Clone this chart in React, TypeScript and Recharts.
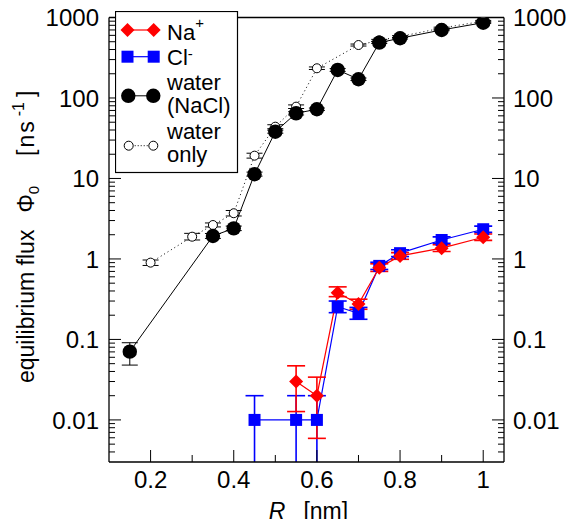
import React from "react";
import { ErrorBar, Line, LineChart, XAxis, YAxis } from "recharts";

const FONT = "'Liberation Sans', Arial, Helvetica, sans-serif";
const RED = "#ff0000";
const BLUE = "#0000ff";
const BLACK = "#000000";

const CHART_W = 558;
const CHART_H = 511;
const LEFT_W = 101;
const RIGHT_W = 62;
const BOTTOM_H = 57;
const TOP_M = 9.5;
const PLOT_X0 = LEFT_W;
const PLOT_X1 = CHART_W - RIGHT_W;
const PLOT_Y0 = TOP_M;
const PLOT_Y1 = CHART_H - BOTTOM_H;

// Na+ : pore radius R [nm], flux [ns^-1], lower / upper error bounds
const naR = [0.55, 0.6, 0.65, 0.7, 0.75, 0.8, 0.9, 1.0];
const naFlux = [0.03, 0.02, 0.38, 0.276, 0.78, 1.09, 1.36, 1.86];
const naLow = [0.0127, 0.0059, 0.34, 0.237, 0.7, 0.99, 1.24, 1.7];
const naHigh = [0.047, 0.034, 0.45, 0.316, 0.87, 1.2, 1.5, 2.04];

// Cl-
const clR = [0.45, 0.55, 0.6, 0.65, 0.7, 0.75, 0.8, 0.9, 1.0];
const clFlux = [0.01, 0.01, 0.01, 0.255, 0.211, 0.82, 1.18, 1.72, 2.34];
const clLow = [0.001, 0.001, 0.001, 0.215, 0.178, 0.74, 1.07, 1.57, 2.14];
const clHigh = [0.02, 0.02, 0.02, 0.3, 0.25, 0.91, 1.3, 1.88, 2.56];

// water (NaCl)
const waterR = [0.15, 0.35, 0.4, 0.45, 0.5, 0.55, 0.6, 0.65, 0.7, 0.75, 0.8, 0.9, 1.0];
const waterFlux = [0.0705, 1.93, 2.4, 11.3, 38.1, 64.5, 72.4, 223, 171, 487, 552, 700, 862];
const waterLow = [0.048, 1.8, 2.25, 10.7, 36.5, 61.5, 70, 214, 165, 475, 540, 685, 845];
const waterHigh = [0.091, 2.07, 2.56, 12, 39.8, 67.5, 75, 232, 177, 500, 565, 715, 880];

// water only
const pureR = [0.2, 0.3, 0.35, 0.4, 0.45, 0.5, 0.55, 0.6, 0.7, 0.75, 0.8, 0.9, 1.0];
const pureFlux = [0.9, 1.89, 2.64, 3.7, 19.2, 44, 78, 234, 455, 520, 580, 740, 900];
const pureLow = [0.83, 1.72, 2.5, 3.42, 17.9, 41.5, 74, 226, 442, 505, 565, 722, 880];
const pureHigh = [0.97, 2.08, 2.8, 4.0, 20.6, 46.5, 82, 243, 468, 535, 595, 758, 920];

const xDomain = [0.1, 1.05];
const yDomain = [0.003, 1000];

const xMajor = [0.2, 0.4, 0.6, 0.8, 1];
const xMajorLabels = ["0.2", "0.4", "0.6", "0.8", "1"];
const xMinor = [0.3, 0.5, 0.7, 0.9];
const yMajor = [0.01, 0.1, 1, 10, 100, 1000];
const yMajorLabels = ["0.01", "0.1", "1", "10", "100", "1000"];
const yMinorSteps = [2, 3, 4, 5, 6, 7, 8, 9];
const yDecades = [0.001, 0.01, 0.1, 1, 10, 100];

const yMinor = yDecades
  .flatMap((d) => yMinorSteps.map((m) => m * d))
  .filter((v) => v > 0.0031 && v < 1000);
const xTicks = [...xMajor, ...xMinor];
const yTicks = [...yMajor, ...yMinor];

const toRows = (r: number[], v: number[], lo: number[], hi: number[]) =>
  r.map((x, i) => ({ R: x, flux: v[i], err: [v[i] - lo[i], hi[i] - v[i]] }));

const naData = toRows(naR, naFlux, naLow, naHigh);
const clData = toRows(clR, clFlux, clLow, clHigh);
const waterData = toRows(waterR, waterFlux, waterLow, waterHigh);
const pureData = toRows(pureR, pureFlux, pureLow, pureHigh);

const findIdx = (v: number, list: number[]) =>
  list.findIndex((m) => Math.abs(m - v) < 1e-9 * Math.max(1, m));

const Diamond = ({ cx, cy, r = 7, fill }: any) => (
  <path d={`M${cx},${cy - r}L${cx + r},${cy}L${cx},${cy + r}L${cx - r},${cy}Z`} fill={fill} />
);
const Square = ({ cx, cy, s = 12, fill }: any) => (
  <rect x={cx - s / 2} y={cy - s / 2} width={s} height={s} fill={fill} />
);
const Ball = ({ cx, cy }: any) => <circle cx={cx} cy={cy} r={7.2} fill={BLACK} />;
const Ring = ({ cx, cy }: any) => (
  <circle cx={cx} cy={cy} r={4.5} fill="#fff" stroke={BLACK} strokeWidth={1} />
);

const dotOf = (Shape: any, fill?: string) => (p: any) => {
  if (p.cx == null || p.cy == null) return <g key={`e-${p.index}`} />;
  return <Shape key={`d-${p.index}`} cx={p.cx} cy={p.cy} fill={fill} />;
};

const tickText = { fontFamily: FONT, fontSize: 24, fill: "#000" };

const makeTick = (side: string) => (props: any) => {
  const { x, y, payload } = props;
  const v = payload.value;
  const isY = side === "left" || side === "right";
  const idx = isY ? findIdx(v, yMajor) : findIdx(v, xMajor);
  const major = idx >= 0;
  const len = major ? 12 : isY ? 6 : 7;
  if (side === "left") {
    return (
      <g>
        <line x1={x} y1={y} x2={x + len} y2={y} stroke="#000" />
        {major && (
          <text x={x - 10} y={y} dy="0.36em" textAnchor="end" {...tickText}>
            {yMajorLabels[idx]}
          </text>
        )}
      </g>
    );
  }
  if (side === "right") {
    return (
      <g>
        <line x1={x} y1={y} x2={x - len} y2={y} stroke="#000" />
        {major && (
          <text x={x + 9} y={y} dy="0.36em" textAnchor="start" {...tickText}>
            {yMajorLabels[idx]}
          </text>
        )}
      </g>
    );
  }
  if (side === "top") {
    return <line x1={x} y1={y} x2={x} y2={y + len} stroke="#000" />;
  }
  return (
    <g>
      <line x1={x} y1={y} x2={x} y2={y - len} stroke="#000" />
      {major && (
        <text x={x} y={y + 26} textAnchor="middle" {...tickText}>
          {xMajorLabels[idx]}
        </text>
      )}
    </g>
  );
};

const YTitle = () => {
  const x = 26;
  const y0 = PLOT_Y1 - 79;
  return (
    <text
      transform={`rotate(-90 ${x} ${y0})`}
      x={x}
      y={y0}
      fontSize={23}
      fontFamily={FONT}
      fill="#000"
    >
      equilibrium flux
      <tspan dx={17}>Φ</tspan>
      <tspan fontSize={15} dy={5}>0</tspan>
      <tspan dx={30} dy={-5} letterSpacing={2}>[ns</tspan>
      <tspan fontSize={16} dx={3} dy={-10}>-1</tspan>
      <tspan dx={5} dy={10}>]</tspan>
    </text>
  );
};

const XTitle = () => (
  <text
    x={(PLOT_X0 + PLOT_X1) / 2 + 2}
    y={CHART_H}
    textAnchor="middle"
    fontSize={23}
    fontFamily={FONT}
    fill="#000"
  >
    <tspan fontStyle="italic">R</tspan>
    <tspan dx={18}>[nm]</tspan>
  </text>
);

const ChartLegend = () => (
  <svg
    width={124}
    height={163}
    style={{ position: "absolute", left: 107, top: 3 }}
    fontFamily={FONT}
  >
    <rect x={0.5} y={0.5} width={122} height={161} fill="#fff" stroke="#000" strokeWidth={1.2} />
    <line x1={12.5} y1={19} x2={38.7} y2={19} stroke={RED} strokeWidth={1.2} />
    <Diamond cx={12.5} cy={19} fill={RED} />
    <Diamond cx={38.7} cy={19} fill={RED} />

    <line x1={12.5} y1={45.7} x2={38.7} y2={45.7} stroke={BLUE} strokeWidth={1.2} />
    <Square cx={12.5} cy={45.7} fill={BLUE} />
    <Square cx={38.7} cy={45.7} fill={BLUE} />

    <line x1={13.3} y1={84.8} x2={38.3} y2={84.8} stroke={BLACK} strokeWidth={1} />
    <Ball cx={13.3} cy={84.8} />
    <Ball cx={38.3} cy={84.8} />

    <line
      x1={13.7}
      y1={134.7}
      x2={38.3}
      y2={134.7}
      stroke={BLACK}
      strokeWidth={1}
      strokeDasharray="1 2"
    />
    <Ring cx={13.7} cy={134.7} />
    <Ring cx={38.3} cy={134.7} />

    <text fontSize={22} fill="#000">
      <tspan x={52} y={29}>Na</tspan>
      <tspan fontSize={15} dy={-12}>+</tspan>
      <tspan x={52} y={54}>Cl</tspan>
      <tspan fontSize={15} dy={-6}>-</tspan>
      <tspan x={52} y={79}>water</tspan>
      <tspan x={52} y={102}>(NaCl)</tspan>
      <tspan x={52} y={128}>water</tspan>
      <tspan x={52} y={151}>only</tspan>
    </text>
  </svg>
);

const axisLine = { stroke: "#000", strokeWidth: 1.3 };

export default function App() {
  return (
    <div style={{ position: "relative", width: CHART_W, height: CHART_H, fontFamily: FONT }}>
      <style>{`.recharts-surface{overflow:visible}
.recharts-errorBars,.recharts-errorBar{clip-path:url(#plot-area-clip)}`}</style>
      <svg width={0} height={0} style={{ position: "absolute", left: 0, top: 0 }}>
        <defs>
          <clipPath id="plot-area-clip" clipPathUnits="userSpaceOnUse">
            <rect
              x={PLOT_X0}
              y={PLOT_Y0 - 20}
              width={PLOT_X1 - PLOT_X0}
              height={PLOT_Y1 - PLOT_Y0 + 20}
            />
          </clipPath>
        </defs>
      </svg>
      <LineChart
        width={CHART_W}
        height={CHART_H}
        margin={{ top: TOP_M - 1, right: 0, bottom: 0, left: 0 }}
      >
        <XAxis
          dataKey="R"
          type="number"
          domain={xDomain}
          ticks={xTicks}
          interval={0}
          allowDataOverflow
          height={BOTTOM_H}
          tickSize={0}
          tickMargin={0}
          tickLine={false}
          axisLine={axisLine}
          tick={makeTick("bottom")}
          label={{ content: () => <XTitle /> }}
        />
        <XAxis
          xAxisId="top"
          orientation="top"
          type="number"
          domain={xDomain}
          ticks={xTicks}
          interval={0}
          allowDataOverflow
          height={1}
          tickSize={0}
          tickMargin={0}
          tickLine={false}
          axisLine={axisLine}
          tick={makeTick("top")}
        />
        <YAxis
          type="number"
          scale="log"
          domain={yDomain}
          ticks={yTicks}
          interval={0}
          allowDataOverflow
          width={LEFT_W}
          tickSize={0}
          tickMargin={0}
          tickLine={false}
          axisLine={axisLine}
          tick={makeTick("left")}
          label={{ content: () => <YTitle /> }}
        />
        <YAxis
          yAxisId="right"
          orientation="right"
          type="number"
          scale="log"
          domain={yDomain}
          ticks={yTicks}
          interval={0}
          allowDataOverflow
          width={RIGHT_W}
          tickSize={0}
          tickMargin={0}
          tickLine={false}
          axisLine={axisLine}
          tick={makeTick("right")}
        />
        <Line
          data={pureData}
          dataKey="flux"
          type="linear"
          stroke={BLACK}
          strokeWidth={1}
          strokeDasharray="1 3"
          dot={dotOf(Ring)}
          activeDot={false}
          isAnimationActive={false}
        >
          <ErrorBar dataKey="err" width={8} stroke={BLACK} strokeWidth={1} />
        </Line>
        <Line
          data={waterData}
          dataKey="flux"
          type="linear"
          stroke={BLACK}
          strokeWidth={1}
          dot={dotOf(Ball)}
          activeDot={false}
          isAnimationActive={false}
        >
          <ErrorBar dataKey="err" width={8} stroke={BLACK} strokeWidth={1} />
        </Line>
        <Line
          data={clData}
          dataKey="flux"
          type="linear"
          stroke={BLUE}
          strokeWidth={1.2}
          dot={dotOf(Square, BLUE)}
          activeDot={false}
          isAnimationActive={false}
        >
          <ErrorBar dataKey="err" width={9} stroke={BLUE} strokeWidth={1.6} />
        </Line>
        <Line
          data={naData}
          dataKey="flux"
          type="linear"
          stroke={RED}
          strokeWidth={1.2}
          dot={dotOf(Diamond, RED)}
          activeDot={false}
          isAnimationActive={false}
        >
          <ErrorBar dataKey="err" width={9} stroke={RED} strokeWidth={1.6} />
        </Line>
      </LineChart>
      <ChartLegend />
    </div>
  );
}
